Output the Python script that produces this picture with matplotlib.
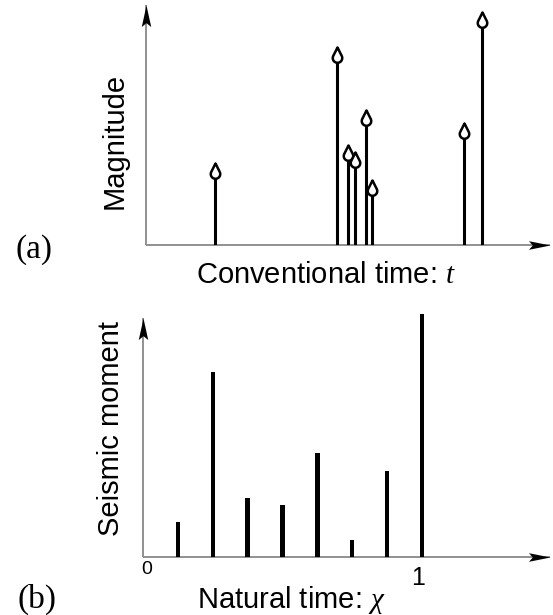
import numpy as np
import matplotlib
matplotlib.use("Agg")
import matplotlib.pyplot as plt
from matplotlib.path import Path

# ---------------- data ----------------
# panel (a): event times (arbitrary units) and magnitudes
event_times = [0.69, 1.91, 2.02, 2.09, 2.20, 2.26, 3.18, 3.36]
magnitudes = [2.05, 4.95, 2.50, 2.33, 3.38, 1.63, 3.05, 5.83]
# panel (b): natural time chi_k = k/N and seismic moments
natural_times = [1/8, 2/8, 3/8, 4/8, 5/8, 6/8, 7/8, 8/8]
moments = [1.44, 7.61, 2.43, 2.14, 4.28, 0.70, 3.54, 10.0]
b_ticks = [0, 1]
b_ticklabels = ["0", "1"]

W, H = 553, 615
plt.rcParams['font.family'] = ['Liberation Sans', 'DejaVu Sans']
plt.rcParams['mathtext.fontset'] = 'custom'
plt.rcParams['mathtext.it'] = 'Liberation Serif:italic'
plt.rcParams['mathtext.rm'] = 'Liberation Sans'

fig = plt.figure(figsize=(W/100, H/100), dpi=100)

def px_rect(left, top, right, bottom):
    return [left/W, 1 - bottom/H, (right-left)/W, (bottom-top)/H]

def fx(x):
    return x / W

def fy(y):
    return 1 - y / H

# marker shapes
def teardrop():
    r = 0.31
    d = 1 - r
    th = np.arccos(r / d)
    angles = np.linspace(np.pi/2 - th, -3*np.pi/2 + th, 40)
    pts = [(0, 0)] + [(r*np.cos(a), -d + r*np.sin(a)) for a in angles] + [(0, 0)]
    return Path(pts, closed=True)

head_up = Path([(0, 0), (0.22, -1), (0, -0.82), (-0.22, -1), (0, 0)], closed=True)
head_right = Path([(0, 0), (-1, 0.2), (-0.82, 0), (-1, -0.2), (0, 0)], closed=True)

axis_gray = '#909090'

def draw_axes_arrows(ax):
    for s in ax.spines.values():
        s.set_visible(False)
    ax.set_xticks([])
    ax.set_yticks([])
    ax.plot([0, 1], [0, 0], transform=ax.transAxes, color=axis_gray, lw=1.4,
            clip_on=False, zorder=1, solid_capstyle='butt')
    ax.plot([0, 0], [0, 1], transform=ax.transAxes, color=axis_gray, lw=1.4,
            clip_on=False, zorder=1, solid_capstyle='butt')
    ax.plot([1], [0], transform=ax.transAxes, marker=head_right, ms=31,
            color='black', mew=0, clip_on=False, zorder=5)
    ax.plot([0], [1], transform=ax.transAxes, marker=head_up, ms=31,
            color='black', mew=0, clip_on=False, zorder=5)

# ---------------- panel (a) ----------------
axa = fig.add_axes(px_rect(146, 5, 550, 245))
axa.set_xlim(0, 4.04)
axa.set_ylim(0, 6.0)
draw_axes_arrows(axa)
axa.vlines(event_times, 0, magnitudes, color='black', lw=2.2, zorder=3)
axa.plot(event_times, magnitudes, ls='none', marker=teardrop(), ms=22,
         mfc='white', mec='black', mew=1.8, zorder=4, clip_on=False)

fig.text(fx(326), fy(283), "Conventional time: $t$", fontsize=21,
         ha='center', va='baseline')
fig.text(fx(115), fy(141), "Magnitude", fontsize=21, rotation=90,
         ha='center', va='center')
fig.text(fx(34), fy(250), "(a)", fontsize=24, family='Liberation Serif',
         ha='center', va='center')

# ---------------- panel (b) ----------------
axb = fig.add_axes(px_rect(143, 318, 550, 557))
axb.set_xlim(0, 407/279)
axb.set_ylim(0, 239/24.3)
draw_axes_arrows(axb)
axb.bar(natural_times, moments, width=0.016, color='black', zorder=3,
        clip_on=False)

tick_sizes = [14, 18]
tick_y = [fy(570), fy(578)]
for v, lab, sz, yy in zip(b_ticks, b_ticklabels, tick_sizes, tick_y):
    xpix = axb.transData.transform((v, 0))[0]
    fig.text(xpix / W + (0.006 if v == 0 else -0.007), yy, lab, fontsize=sz,
             ha='center', va='center')

fig.text(fx(291), fy(608), "Natural time: $\\chi$", fontsize=21,
         ha='center', va='baseline')
fig.text(fx(111), fy(428), "Seismic moment", fontsize=21, rotation=90,
         ha='center', va='center')
fig.text(fx(37), fy(599), "(b)", fontsize=24, family='Liberation Serif',
         ha='center', va='center')

fig.savefig("out.png", dpi=100)
